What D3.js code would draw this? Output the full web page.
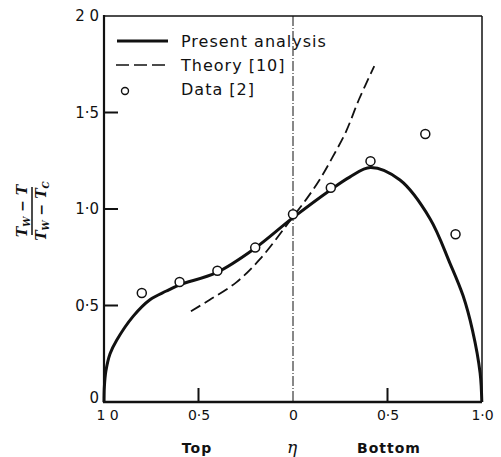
<!DOCTYPE html>
<style>
  body { margin: 0; background: white; }
  svg { display: block; }
  text { font-family: "DejaVu Sans", sans-serif; fill: #111; }
</style>
<body>
</body>
<script src="https://cdn.jsdelivr.net/npm/d3@7"></script>
<script>
  // present analysis (solid curve)
  const presentEta = [-1, -0.998, -0.99, -0.968, -0.933, -0.845, -0.757, -0.67, -0.6, -0.405, -0.21, 0, 0.2, 0.3, 0.41, 0.566, 0.725, 0.83, 0.9, 0.95, 0.99, 0.999];
  const presentVal = [0, 0.08, 0.16, 0.25, 0.32, 0.445, 0.53, 0.575, 0.607, 0.67, 0.79, 0.955, 1.10, 1.165, 1.215, 1.15, 0.95, 0.72, 0.55, 0.37, 0.15, 0];
  // theory [10] (dashed curve)
  const theoryEta = [-0.54, -0.44, -0.3, -0.175, 0, 0.07, 0.14, 0.21, 0.28, 0.35, 0.43];
  const theoryVal = [0.47, 0.53, 0.62, 0.74, 0.96, 1.05, 1.15, 1.27, 1.40, 1.57, 1.74];
  // data [2] (circles)
  const dataEta = [-0.8, -0.6, -0.4, -0.2, 0, 0.2, 0.41, 0.7, 0.86];
  const dataVal = [0.565, 0.622, 0.68, 0.80, 0.973, 1.11, 1.248, 1.389, 0.869];

  const xTicks = [-1, -0.5, 0, 0.5, 1];
  const xTickLabels = ['1 0', '0\u00b75', '0', '0\u00b75', '1\u00b70'];
  const yTicks = [0, 0.5, 1, 1.5, 2];
  const yTickLabels = ['0', '0\u00b75', '1\u00b70', '1\u00b75', '2 0'];
  const xMarks = [-0.5, 0.5];
  const yMarks = [0.5, 1, 1.5];

  const legendLabels = ['Present analysis', 'Theory [10]', 'Data [2]'];

  const W = 501, H = 457;
  const l = 104, r = 482, t = 16, b = 402;

  const svg = d3.select('body').append('svg').attr('width', W).attr('height', H);

  const x = d3.scaleLinear().domain([-1, 1]).range([l, r]);
  const y = d3.scaleLinear().domain([0, 2]).range([b, t]);

  // frame: top and right thin
  svg.append('line').attr('x1', l).attr('x2', r).attr('y1', t).attr('y2', t)
    .attr('stroke', '#111').attr('stroke-width', 1.5);
  svg.append('line').attr('x1', r).attr('x2', r).attr('y1', t).attr('y2', b)
    .attr('stroke', '#111').attr('stroke-width', 1.5);

  // centre line at eta = 0
  svg.append('line').attr('x1', x(0)).attr('x2', x(0)).attr('y1', t).attr('y2', b)
    .attr('stroke', '#111').attr('stroke-width', 1)
    .attr('stroke-dasharray', '10,2,1,2');

  // bottom axis labels
  const xAxis = svg.append('g')
    .attr('transform', `translate(0, ${b})`)
    .call(d3.axisBottom(x).tickValues(xTicks).tickFormat((d, i) => xTickLabels[i])
      .tickSize(0).tickPadding(8));
  xAxis.select('.domain').remove();
  xAxis.selectAll('text').style('font-size', '14px').attr('font-family', null);
  xAxis.selectAll('.tick').filter(d => d === -1).select('text').attr('dx', 3);

  // left axis labels
  const yAxis = svg.append('g')
    .attr('transform', `translate(${l}, 0)`)
    .call(d3.axisLeft(y).tickValues(yTicks).tickFormat((d, i) => yTickLabels[i])
      .tickSize(0).tickPadding(5));
  yAxis.select('.domain').remove();
  yAxis.selectAll('text').style('font-size', '15px').attr('font-family', null);
  yAxis.selectAll('.tick').filter(d => d === 0).select('text').attr('dy', '0.05em');

  // inward tick marks as small bars
  svg.append('g').selectAll('rect')
    .data(xMarks)
    .join('rect')
    .attr('x', d => x(d) - 1).attr('y', b - 14)
    .attr('width', 2).attr('height', 14)
    .attr('fill', '#111');
  svg.append('g').selectAll('rect')
    .data(yMarks)
    .join('rect')
    .attr('x', l).attr('y', d => y(d) - 1)
    .attr('width', 14).attr('height', 2)
    .attr('fill', '#111');

  // thick left and bottom axis
  svg.append('line').attr('x1', l).attr('x2', l).attr('y1', t - 1).attr('y2', b + 1)
    .attr('stroke', '#111').attr('stroke-width', 2.2);
  svg.append('line').attr('x1', l - 1).attr('x2', r).attr('y1', b).attr('y2', b)
    .attr('stroke', '#111').attr('stroke-width', 2.4);

  // axis titles
  svg.append('text').attr('x', 197).attr('y', 453).attr('text-anchor', 'middle')
    .style('font-size', '14px').style('font-weight', 'bold').style('letter-spacing', '1px').text('Top');
  svg.append('text').attr('x', 292).attr('y', 453).attr('text-anchor', 'middle')
    .style('font-size', '17px').style('font-style', 'italic')
    .style('font-family', '"DejaVu Serif", serif').text('\u03b7');
  svg.append('text').attr('x', 389).attr('y', 453).attr('text-anchor', 'middle')
    .style('font-size', '14px').style('font-weight', 'bold').style('letter-spacing', '1px').text('Bottom');

  // y label fraction
  const yl = svg.append('g').attr('transform', 'translate(32, 211) rotate(-90)');
  yl.append('line').attr('x1', -24).attr('x2', 24).attr('y1', 0).attr('y2', 0)
    .attr('stroke', '#111').attr('stroke-width', 1.5);
  const num = yl.append('text').attr('x', 0).attr('y', -5).attr('text-anchor', 'middle')
    .style('font-size', '14px').style('font-style', 'italic').style('font-weight', 'bold')
    .style('font-family', '"DejaVu Serif", serif');
  num.append('tspan').text('T');
  num.append('tspan').attr('dy', 3).style('font-size', '9px').text('W');
  num.append('tspan').attr('dy', -3).text(' \u2212 T');
  const den = yl.append('text').attr('x', 0).attr('y', 14).attr('text-anchor', 'middle')
    .style('font-size', '14px').style('font-style', 'italic').style('font-weight', 'bold')
    .style('font-family', '"DejaVu Serif", serif');
  den.append('tspan').text('T');
  den.append('tspan').attr('dy', 3).style('font-size', '9px').text('W');
  den.append('tspan').attr('dy', -3).text(' \u2212 T');
  den.append('tspan').attr('dy', 3).style('font-size', '9px').text('C');

  // curves
  const present = presentEta.map((e, i) => [e, presentVal[i]]);
  const theory = theoryEta.map((e, i) => [e, theoryVal[i]]);
  const line = d3.line().x(d => x(d[0])).y(d => y(d[1])).curve(d3.curveCatmullRom.alpha(0.5));

  svg.append('path').datum(theory).attr('d', line)
    .attr('fill', 'none').attr('stroke', '#111').attr('stroke-width', 1.8)
    .attr('stroke-dasharray', '11,5');
  svg.append('path').datum(present).attr('d', line)
    .attr('fill', 'none').attr('stroke', '#111').attr('stroke-width', 3);

  svg.append('g').selectAll('circle')
    .data(dataEta.map((e, i) => [e, dataVal[i]]))
    .join('circle')
    .attr('cx', d => x(d[0])).attr('cy', d => y(d[1])).attr('r', 4.5)
    .attr('fill', 'white').attr('stroke', '#111').attr('stroke-width', 1.5);

  // legend
  const leg = svg.append('g');
  const rows = [41, 65, 89];
  leg.append('line').attr('x1', 117).attr('x2', 168).attr('y1', rows[0]).attr('y2', rows[0])
    .attr('stroke', '#111').attr('stroke-width', 3);
  leg.append('line').attr('x1', 116).attr('x2', 166).attr('y1', rows[1]).attr('y2', rows[1])
    .attr('stroke', '#111').attr('stroke-width', 1.5).attr('stroke-dasharray', '13,5');
  leg.append('circle').attr('cx', 125).attr('cy', rows[2] + 2).attr('r', 3.5)
    .attr('fill', 'white').attr('stroke', '#111').attr('stroke-width', 1.4);
  leg.selectAll('text.lab')
    .data(legendLabels)
    .join('text').attr('class', 'lab')
    .attr('x', 181).attr('y', (d, i) => rows[i] + 6)
    .style('font-size', '16px').style('letter-spacing', '1px')
    .text(d => d);
</script>
